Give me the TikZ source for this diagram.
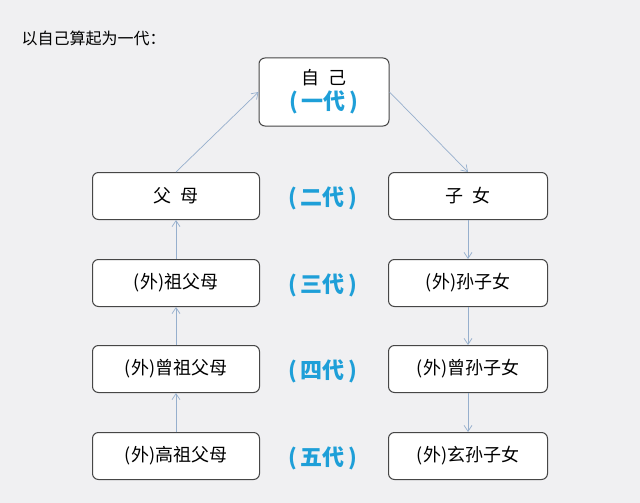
\documentclass[tikz,border=0pt]{standalone}
\usepackage{fontspec}
\newfontfamily\cjk{Noto Sans CJK SC}
\usetikzlibrary{arrows.meta, positioning}
\definecolor{bggray}{RGB}{240, 240, 242}
\definecolor{genblue}{RGB}{30, 159, 216}
\definecolor{linkblue}{RGB}{150, 175, 205}
\definecolor{boxgray}{RGB}{70, 70, 70}
\tikzset{
  person/.style={draw=boxgray, fill=white, rounded corners=6pt, line width=1pt,
    minimum width=167pt, minimum height=47pt, font=\cjk\fontsize{18}{22}\selectfont},
  gen/.style={text=genblue, font=\cjk\bfseries\fontsize{22}{26}\selectfont},
  link/.style={linkblue, line width=0.7pt, -{Straight Barb[length=6pt,width=8pt]}}
}
\begin{document}
\begin{tikzpicture}[x=1pt, y=-1pt]
  \useasboundingbox[fill=bggray] (0,0) rectangle (640,503);
  % title
  \node[anchor=west, font=\cjk\fontsize{16}{18}\selectfont] (title) at (18,38) {以自己算起为一代：};

  % self
  \node[person, minimum width=130pt, minimum height=68pt, align=center] (self) at (324,92)
    {自\enspace 己\\[3pt]{\bfseries\color{genblue}\fontsize{22}{26}\selectfont (\,一代\,)}};

  % left column: ancestors
  \node[person] (fm)  at (176,196) {父\enspace 母};
  \node[person] (zfm) at (176,283) {(外)祖父母};
  \node[person] (cfm) at (176,369) {(外)曾祖父母};
  \node[person] (gfm) at (176,456) {(外)高祖父母};

  % right column: descendants
  \node[person, minimum width=159pt] (zn)  at (468,196) {子\enspace 女};
  \node[person, minimum width=159pt] (szn) at (468,283) {(外)孙子女};
  \node[person, minimum width=159pt] (czn) at (468,369) {(外)曾孙子女};
  \node[person, minimum width=159pt] (xzn) at (468,456) {(外)玄孙子女};

  % generation labels
  \node[gen] (g2) at (323,198) {(\,二代\,)};
  \node[gen] (g3) at (323,285) {(\,三代\,)};
  \node[gen] (g4) at (323,371) {(\,四代\,)};
  \node[gen] (g5) at (323,458) {(\,五代\,)};

  % arrows
  \draw[link] (fm.north) -- (self.west);
  \draw[link] (self.east) -- (zn.north);
  \draw[link] (gfm) -- (cfm);
  \draw[link] (cfm) -- (zfm);
  \draw[link] (zfm) -- (fm);
  \draw[link] (zn) -- (szn);
  \draw[link] (szn) -- (czn);
  \draw[link] (czn) -- (xzn);
\end{tikzpicture}
\end{document}
